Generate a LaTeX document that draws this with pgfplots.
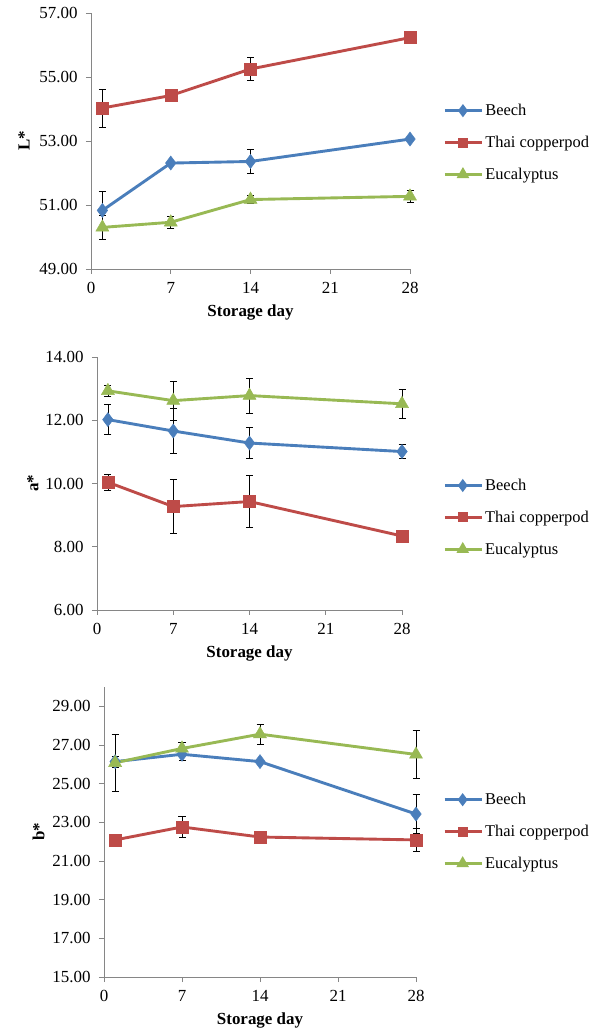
\documentclass[border=0pt]{standalone}
\usepackage{pgfplots}
\pgfplotsset{compat=1.18}
\usepackage{fontspec}
\setmainfont{Liberation Serif}
\definecolor{cblue}{HTML}{4A7EBB}
\definecolor{cred}{HTML}{BE4B48}
\definecolor{cgreen}{HTML}{98B954}
\definecolor{axgray}{HTML}{868686}
\pgfplotsset{
  panel/.style={
    scale only axis,
    axis lines=left,
    axis line style={axgray, line width=0.8pt, -},
    xmin=0, xmax=28,
    xtick={0,7,14,21,28},
    tick style={axgray, line width=0.8pt},
    tick align=outside,
    major tick length=5bp,
    tick label style={font=\fontsize{17}{19}\selectfont},
    xticklabel style={yshift=-5bp},
    yticklabel style={xshift=-5bp},
    /pgf/number format/assume math mode=true,
    yticklabel style={/pgf/number format/.cd, fixed, fixed zerofill, precision=2},
    xlabel={\textbf{Storage day}},
    xlabel style={yshift=-4bp, font=\fontsize{17}{19}\selectfont\bfseries},
    every axis y label/.style={at={(axis description cs:-0.21,0.5)}, rotate=90, anchor=center, font=\fontsize{17}{19}\selectfont\bfseries},
    clip=false,
    legend cell align=left,
    legend style={draw=none, fill=none, anchor=north west,
      font=\fontsize{16.5}{18}\selectfont, row sep=15bp,
      /tikz/every even column/.append style={column sep=2bp}},
    legend image code/.code={\draw[mark repeat=2,mark phase=2, mark options={scale=0.6}] plot coordinates {(0bp,0bp) (18bp,0bp) (37bp,0bp)};},
  },
  eb/.style={draw=none, mark=none, forget plot,
    error bars/y dir=both, error bars/y explicit,
    error bars/error bar style={black, line width=0.6pt},
    error bars/error mark options={rotate=90, black, mark size=3.5bp, line width=0.6pt}},
  sB/.style={cblue, line width=2.9pt, mark=diamond*, mark size=7bp, mark options={solid, fill=cblue, line width=0.5pt}},
  sT/.style={cred, line width=2.9pt, mark=square*, mark size=6bp, mark options={solid, fill=cred, line width=0.5pt}},
  sE/.style={cgreen, line width=2.9pt, mark=triangle*, mark size=7.5bp, mark options={solid, fill=cgreen, line width=0.5pt}},
}
\pgfplotstableread{
x y e
1 50.83 0.60
7 52.31 0
14 52.36 0.38
28 53.06 0
}\LB
\pgfplotstableread{
x y e
1 54.03 0.59
7 54.42 0
14 55.25 0.35
28 56.23 0
}\LT
\pgfplotstableread{
x y e
1 50.30 0.38
7 50.46 0.20
14 51.17 0.13
28 51.27 0.19
}\LE
\pgfplotstableread{
x y e
1 12.02 0.48
7 11.66 0.72
14 11.28 0.49
28 11.01 0.22
}\AB
\pgfplotstableread{
x y e
1 10.04 0.26
7 9.27 0.85
14 9.43 0.82
28 8.34 0
}\AT
\pgfplotstableread{
x y e
1 12.93 0.18
7 12.62 0.61
14 12.78 0.56
28 12.52 0.45
}\AE
\pgfplotstableread{
x y e
1 26.14 0.30
7 26.52 0.30
14 26.14 0
28 23.43 1.01
}\BB
\pgfplotstableread{
x y e
1 22.09 0
7 22.76 0.53
14 22.24 0
28 22.09 0.60
}\BT
\pgfplotstableread{
x y e
1 26.08 1.47
7 26.82 0.31
14 27.56 0.53
28 26.51 1.23
}\BE
\begin{document}
\begin{tikzpicture}
\path[use as bounding box] (0,0) rectangle (607bp,1029bp);
% Panel 1: L*
\begin{axis}[panel, at={(91bp,760bp)}, anchor=south west,
  width=319bp, height=256bp,
  ymin=49, ymax=57, ytick={49,51,53,55,57},
  ylabel={L*},
  legend style={at={(1.095,0.66)}}]
\addplot[eb] table[x=x,y=y,y error=e] {\LB};
\addplot[eb] table[x=x,y=y,y error=e] {\LT};
\addplot[eb] table[x=x,y=y,y error=e] {\LE};
\addplot[sB] table[x=x,y=y] {\LB};
\addlegendentry{Beech}
\addplot[sT] table[x=x,y=y] {\LT};
\addlegendentry{Thai copperpod}
\addplot[sE] table[x=x,y=y] {\LE};
\addlegendentry{Eucalyptus}
\end{axis}
% Panel 2: a*
\begin{axis}[panel, at={(97bp,419bp)}, anchor=south west,
  width=305bp, height=253bp,
  ymin=6, ymax=14, ytick={6,8,10,12,14},
  ylabel={a*},
  legend style={at={(1.125,0.534)}}]
\addplot[eb] table[x=x,y=y,y error=e] {\AB};
\addplot[eb] table[x=x,y=y,y error=e] {\AT};
\addplot[eb] table[x=x,y=y,y error=e] {\AE};
\addplot[sB] table[x=x,y=y] {\AB};
\addlegendentry{Beech}
\addplot[sT] table[x=x,y=y] {\AT};
\addlegendentry{Thai copperpod}
\addplot[sE] table[x=x,y=y] {\AE};
\addlegendentry{Eucalyptus}
\end{axis}
% Panel 3: b*
\begin{axis}[panel, at={(104bp,52bp)}, anchor=south west,
  width=312bp, height=290bp,
  ymin=15, ymax=30, ytick={15,17,19,21,23,25,27,29},
  ylabel={b*},
  legend style={at={(1.077,0.648)}}]
\addplot[eb] table[x=x,y=y,y error=e] {\BB};
\addplot[eb] table[x=x,y=y,y error=e] {\BT};
\addplot[eb] table[x=x,y=y,y error=e] {\BE};
\addplot[sB] table[x=x,y=y] {\BB};
\addlegendentry{Beech}
\addplot[sT] table[x=x,y=y] {\BT};
\addlegendentry{Thai copperpod}
\addplot[sE] table[x=x,y=y] {\BE};
\addlegendentry{Eucalyptus}
\end{axis}
\end{tikzpicture}
\end{document}
